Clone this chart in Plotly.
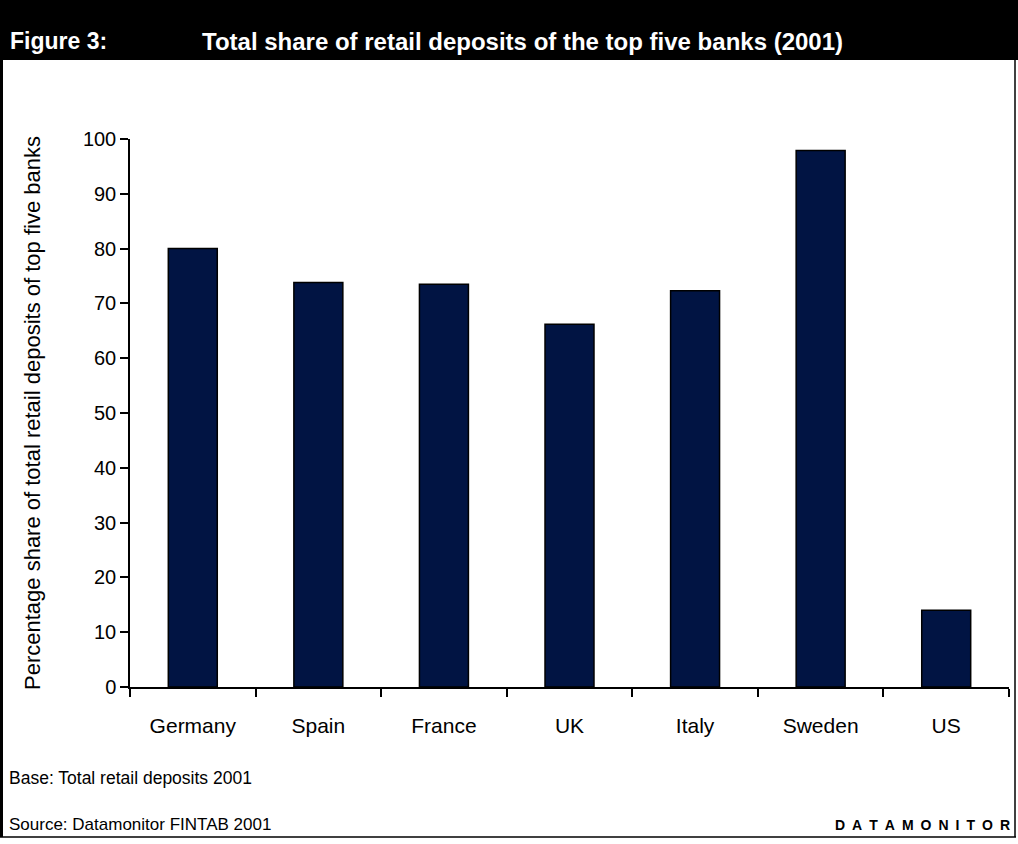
import plotly.graph_objects as go

# Share of retail deposits held by the five largest banks, 2001
countries = ["Germany", "Spain", "France", "UK", "Italy", "Sweden", "US"]
share_top5 = [80.0, 73.8, 73.5, 66.2, 72.3, 97.9, 14.0]
y_ticks = [0, 10, 20, 30, 40, 50, 60, 70, 80, 90, 100]

W, H = 1018, 844
ML, MR, MT, MB = 130, 9, 139, 157
PLOT_W = W - ML - MR
PLOT_H = H - MT - MB
FONT = "Liberation Sans, Arial, sans-serif"


def px_x(px):
    return (px - ML) / PLOT_W


def px_y(py):
    return (H - MB - py) / PLOT_H


fig = go.Figure(
    go.Bar(
        x=countries,
        y=share_top5,
        marker=dict(color="#011443", line=dict(color="#000000", width=1.5)),
        width=0.39,
    )
)

fig.update_layout(
    width=W,
    height=H,
    margin=dict(l=ML, r=MR, t=MT, b=MB),
    paper_bgcolor="white",
    plot_bgcolor="white",
    showlegend=False,
    font=dict(family=FONT, size=16, color="black"),
)

fig.update_xaxes(
    type="category",
    range=[-0.5, 6.5],
    showline=True,
    linecolor="black",
    linewidth=1.5,
    ticks="outside",
    tickson="boundaries",
    ticklen=8,
    tickwidth=1.5,
    tickcolor="black",
    showgrid=False,
    tickfont=dict(family=FONT, size=21, color="black"),
    ticklabelstandoff=19,
)

fig.update_yaxes(
    range=[0, 100],
    tickvals=y_ticks,
    showline=True,
    linecolor="black",
    linewidth=1.5,
    ticks="outside",
    ticklen=8,
    tickwidth=1.5,
    tickcolor="black",
    showgrid=False,
    zeroline=False,
    tickfont=dict(family=FONT, size=20, color="black"),
    title=dict(
        text="Percentage share of total retail deposits of top five banks",
        font=dict(family=FONT, size=22, color="black"),
        standoff=36,
    ),
)

shapes = [
    # header band
    dict(type="rect", xref="paper", yref="paper",
         x0=px_x(0), x1=px_x(W), y0=px_y(60), y1=px_y(0),
         fillcolor="black", line=dict(width=0), layer="below"),
    # frame around the chart body
    dict(type="line", xref="paper", yref="paper",
         x0=px_x(1.5), x1=px_x(1.5), y0=px_y(60), y1=px_y(837),
         line=dict(color="black", width=3)),
    dict(type="line", xref="paper", yref="paper",
         x0=px_x(1015), x1=px_x(1015), y0=px_y(60), y1=px_y(837),
         line=dict(color="black", width=1.5)),
    dict(type="line", xref="paper", yref="paper",
         x0=px_x(0), x1=px_x(1016), y0=px_y(837), y1=px_y(837),
         line=dict(color="black", width=1.5)),
]

brand = "\u2002".join("DATAMONITOR")

annotations = [
    dict(text="<b>Figure 3:</b>", xref="paper", yref="paper",
         x=px_x(8), y=px_y(41), xanchor="left", yanchor="middle",
         showarrow=False, font=dict(family=FONT, size=23, color="white")),
    dict(text="<b>Total share of retail deposits of the top five banks (2001)</b>",
         xref="paper", yref="paper",
         x=px_x(200), y=px_y(41), xanchor="left", yanchor="middle",
         showarrow=False, font=dict(family=FONT, size=24, color="white")),
    dict(text="Base: Total retail deposits 2001", xref="paper", yref="paper",
         x=px_x(7), y=px_y(778), xanchor="left", yanchor="middle",
         showarrow=False, font=dict(family=FONT, size=17.5, color="black")),
    dict(text="Source: Datamonitor FINTAB 2001", xref="paper", yref="paper",
         x=px_x(7), y=px_y(824), xanchor="left", yanchor="middle",
         showarrow=False, font=dict(family=FONT, size=17, color="black")),
    dict(text="<b>" + brand + "</b>", xref="paper", yref="paper",
         x=px_x(1012), y=px_y(825), xanchor="right", yanchor="middle",
         showarrow=False, font=dict(family=FONT, size=14, color="black")),
]

fig.update_layout(shapes=shapes, annotations=annotations)

fig.write_html("out.html")
